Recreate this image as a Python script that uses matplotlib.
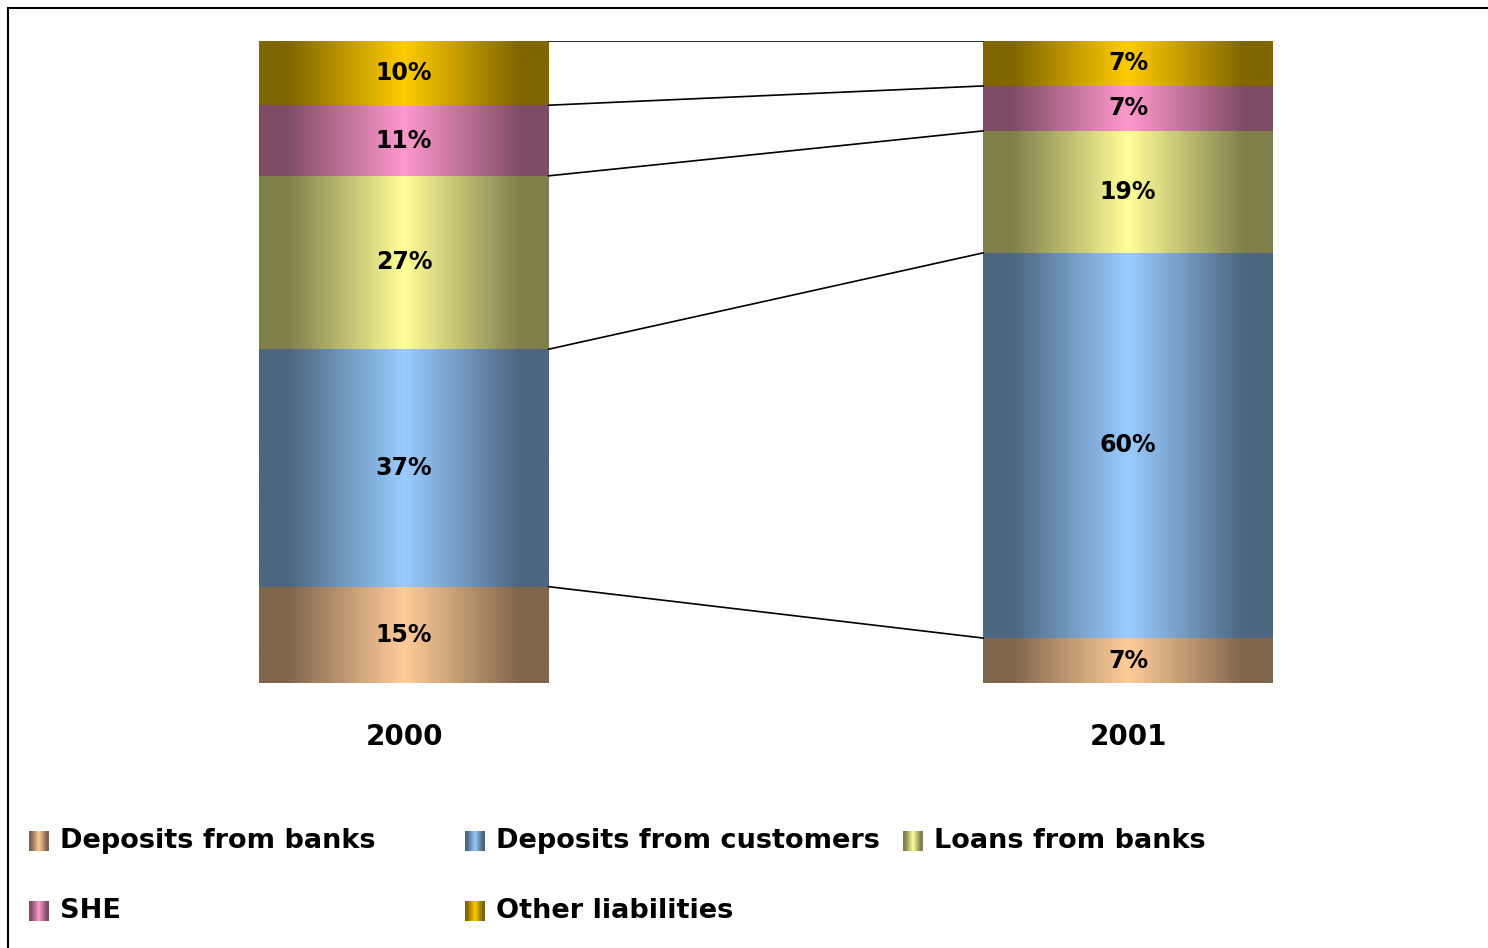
import numpy as np
import matplotlib
matplotlib.use("Agg")
import matplotlib.pyplot as plt
from matplotlib.colors import to_rgb
from matplotlib.patches import Rectangle

years = ["2000", "2001"]
series = ["Deposits from banks", "Deposits from customers", "Loans from banks",
          "SHE", "Other liabilities"]
shares = {
    "Deposits from banks":     [15, 7],
    "Deposits from customers": [37, 60],
    "Loans from banks":        [27, 19],
    "SHE":                     [11, 7],
    "Other liabilities":       [10, 7],
}
colors = ["#FFCC99", "#99CCFF", "#FFFF99", "#FF99CC", "#FFCC00"]

plt.rcParams["font.family"] = ["DejaVu Sans"]
plt.rcParams["font.weight"] = "bold"


def shade(color, n=256):
    # dark edges, light centre, like a "from centre" gradient fill
    c = np.array(to_rgb(color))
    u = np.linspace(0, 1, n)
    t = np.clip(np.abs(2 * u - 1) / 0.8, 0, 1)
    dark = c * 0.5
    rgb = c[None, :] * (1 - t[:, None]) + dark[None, :] * t[:, None]
    return rgb[None, :, :]


W, H = 1488, 948
fig = plt.figure(figsize=(W / 100, H / 100), dpi=100)
ax = fig.add_axes([0, (H - 683) / H, 1, 642 / H])

x = np.arange(len(years))
width = 0.4
bottom = np.zeros(len(years))
tops = []
for name, col in zip(series, colors):
    vals = np.array(shares[name], dtype=float)
    bars = ax.bar(x, vals, width, bottom=bottom, color="none", linewidth=0)
    for b, v in zip(bars, vals):
        bx, by = b.get_xy()
        bw, bh = b.get_width(), b.get_height()
        ax.imshow(shade(col), extent=[bx, bx + bw, by, by + bh],
                  aspect="auto", interpolation="bilinear", zorder=1)
        ax.text(bx + bw / 2, by + bh / 2, f"{v:.0f}%", ha="center", va="center",
                fontsize=17, fontweight="bold", zorder=3)
    bottom = bottom + vals
    tops.append(bottom.copy())

# series lines joining the top of each segment across the two bars
for t in tops:
    ax.plot([x[0] + width / 2, x[1] - width / 2], [t[0], t[1]],
            color="black", lw=1.2, zorder=2)

ax.set_xlim(-404 / 724, (W - 404) / 724)
ax.set_ylim(0, 100)
ax.set_xticks(x)
ax.set_xticklabels(years, fontsize=20, fontweight="bold")
ax.tick_params(axis="x", length=0, pad=29)
ax.set_yticks([])
for s in ax.spines.values():
    s.set_visible(False)

# legend, two rows laid out in three columns
legend_pos = [(29, 841), (465, 841), (903, 841), (29, 911), (465, 911)]
for name, col, (px, py) in zip(series, colors, legend_pos):
    sw = fig.add_axes([px / W, (H - py - 10) / H, 20 / W, 20 / H])
    sw.imshow(shade(col, 32), aspect="auto", interpolation="bilinear")
    sw.axis("off")
    fig.text((px + 31) / W, (H - py) / H, name, ha="left", va="center",
             fontsize=19.5, fontweight="bold")

# chart frame (runs off the right and bottom edges)
fig.patches.append(Rectangle((8 / W, -0.05), 1.0, (H - 8) / H + 0.05,
                             transform=fig.transFigure, fill=False,
                             edgecolor="black", lw=1.5))

fig.savefig("out.png", dpi=100)
